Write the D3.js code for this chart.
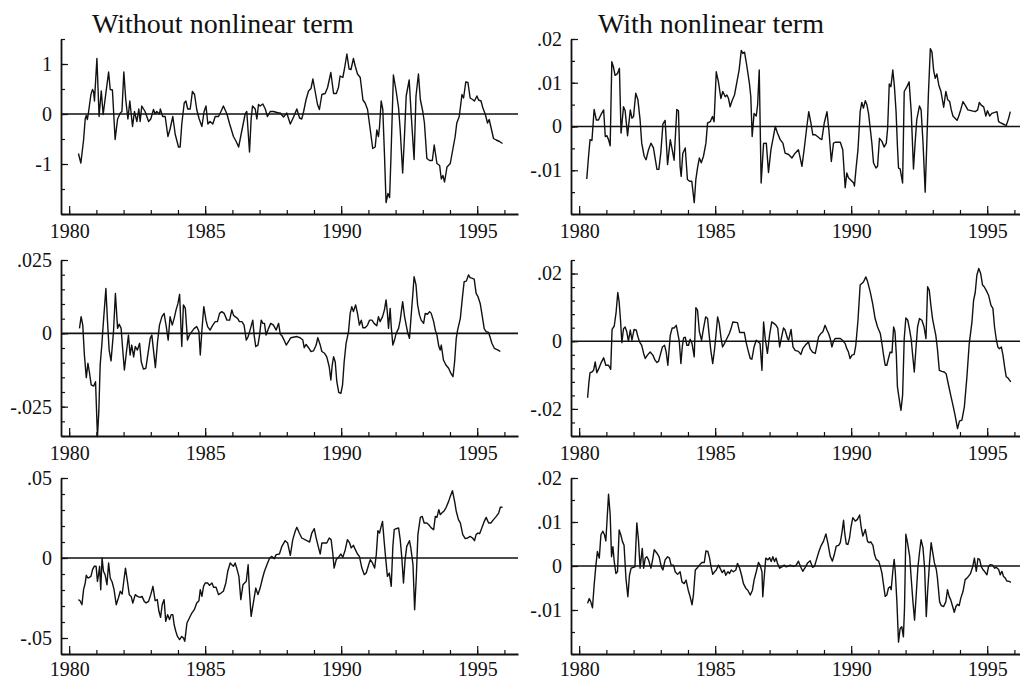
<!DOCTYPE html>
<html><head><meta charset="utf-8">
<script src="https://cdn.jsdelivr.net/npm/d3@7"></script>
<style>
body{margin:0;background:#fff}
svg{display:block;background:#fff}
</style>
</head><body>
<svg id="chart" width="1020" height="681"></svg>
<script>
// ---------------- DATA ----------------
const BASE_YEAR = 1980;            // series times are given as years since 1980
const titles = ["Without nonlinear term", "With nonlinear term"];
const yearTicks = [1980,1981,1982,1983,1984,1985,1986,1987,1988,1989,1990,1991,1992,1993,1994,1995,1996];
const yearLabels = [1980, 1985, 1990, 1995];
const xDomain = [1979.7, 1996.5];

// row 1
const yDomainA = [-2, 1.5],      yStepA = 0.5,   yLabelsA = [1, 0, -1];
const yDomainB = [-0.02, 0.02],  yStepB = 0.005, yLabelsB = [0.02, 0.01, 0, -0.01];
// row 2
const yDomainC = [-0.035, 0.025], yStepC = 0.005, yLabelsC = [0.025, 0, -0.025];
const yDomainD = [-0.028, 0.024], yStepD = 0.004, yLabelsD = [0.02, 0, -0.02];
// row 3
const yDomainE = [-0.06, 0.05],  yStepE = 0.01,  yLabelsE = [0.05, 0, -0.05];
const yDomainF = [-0.02, 0.02],  yStepF = 0.005, yLabelsF = [0.02, 0.01, 0, -0.01];

// [years since 1980, value]
const seriesA = [[.34,-.79],[.43,-.98],[.53,-.52],[.59,-.10],[.63,-.03],[.67,-.11],[.71,.03],[.80,.39],[.86,.49],[.90,.44],[.93,.26],[1.02,1.11],[1.10,-.05],[1.18,.46],[1.25,-.01],[1.32,.29],[1.45,.84],[1.51,.49],[1.59,.48],[1.69,-.51],[1.78,-.10],[1.88,.02],[1.94,.05],[2.01,.84],[2.08,.29],[2.16,-.10],[2.23,.26],[2.33,-.25],[2.40,.05],[2.49,-.15],[2.56,.10],[2.61,-.15],[2.67,.16],[2.79,.05],[2.92,-.15],[3.00,-.10],[3.10,.09],[3.16,0],[3.22,.05],[3.32,0],[3.35,.10],[3.44,-.05],[3.53,-.05],[3.63,-.45],[3.71,-.30],[3.81,-.05],[3.90,-.41],[4.02,-.66],[4.08,-.66],[4.14,-.20],[4.23,.22],[4.29,.26],[4.36,.10],[4.45,.10],[4.53,.45],[4.61,.39],[4.69,.09],[4.78,-.10],[4.88,-.25],[4.96,.05],[5.03,.16],[5.10,-.20],[5.18,-.15],[5.28,-.20],[5.37,-.05],[5.49,-.05],[5.58,.05],[5.67,.16],[5.80,0],[5.90,-.20],[6.04,-.45],[6.14,-.55],[6.23,-.66],[6.32,-.41],[6.47,0],[6.53,.05],[6.63,-.76],[6.69,-.10],[6.74,.16],[6.84,.10],[6.90,-.10],[6.96,.19],[7.02,.16],[7.12,.20],[7.21,.10],[7.29,-.05],[7.39,.05],[7.51,.05],[7.70,.02],[7.76,.02],[7.88,-.06],[8.00,.02],[8.13,-.20],[8.25,-.06],[8.37,.10],[8.47,-.08],[8.55,-.10],[8.62,.05],[8.71,.29],[8.80,.46],[8.89,.51],[8.96,.70],[9.04,.46],[9.13,.19],[9.20,.09],[9.29,.39],[9.41,.41],[9.50,.53],[9.62,.83],[9.72,.41],[9.82,.41],[9.90,.53],[9.96,.76],[10.06,.73],[10.12,.90],[10.21,1.20],[10.29,.90],[10.36,.89],[10.45,1.11],[10.52,.95],[10.60,.80],[10.70,.73],[10.80,.28],[10.88,.22],[10.97,.09],[11.07,-.32],[11.16,-.69],[11.25,-.66],[11.31,-.32],[11.37,-.45],[11.41,-.25],[11.47,.26],[11.53,.09],[11.59,-.79],[11.65,-1.77],[11.72,-1.59],[11.78,-1.67],[11.83,-.86],[11.92,.78],[12.02,.46],[12.11,.12],[12.17,-.32],[12.26,-1.18],[12.32,-.52],[12.39,.36],[12.50,.68],[12.57,.02],[12.68,-.91],[12.75,.36],[12.84,.80],[12.91,.29],[13.00,.05],[13.06,-.18],[13.15,-.89],[13.25,-.93],[13.35,-.93],[13.42,-.62],[13.52,-.99],[13.62,-1.03],[13.68,-1.30],[13.74,-1.23],[13.80,-1.36],[13.89,-1.06],[14.01,-.99],[14.11,-.69],[14.19,-.45],[14.25,-.18],[14.34,-.05],[14.44,.39],[14.50,.32],[14.58,.64],[14.66,.63],[14.74,.32],[14.83,.29],[14.90,.26],[14.99,.36],[15.05,.28],[15.14,.26],[15.21,.12],[15.30,-.01],[15.38,-.18],[15.44,-.11],[15.50,-.25],[15.60,-.49],[15.70,-.52],[15.82,-.55],[15.93,-.59]];

const seriesB = [[.28,-.0120],[.34,-.0072],[.40,-.0030],[.47,-.0032],[.55,.0039],[.63,.0015],[.71,.0015],[.80,.0027],[.90,.0038],[.96,-.0023],[1.02,-.0021],[1.08,-.0030],[1.14,-.0044],[1.20,.0148],[1.26,.0136],[1.32,.0117],[1.41,.0121],[1.48,.0133],[1.54,-.0015],[1.63,.0045],[1.69,.0036],[1.78,-.0021],[1.88,.0038],[1.94,.0019],[2.00,.0023],[2.08,.0076],[2.16,.0061],[2.24,.0015],[2.30,-.0038],[2.39,-.0068],[2.46,-.0076],[2.55,-.0053],[2.64,-.0038],[2.73,-.0049],[2.86,-.0098],[2.93,-.0098],[3.00,-.0061],[3.08,.0006],[3.16,.0014],[3.25,-.0087],[3.35,-.0030],[3.42,-.0053],[3.49,-.0077],[3.59,.0039],[3.65,.0036],[3.71,-.0091],[3.75,-.0114],[3.81,-.0061],[3.90,-.0049],[3.98,-.0121],[4.06,-.0125],[4.14,-.0125],[4.23,-.0174],[4.29,-.0121],[4.36,-.0091],[4.42,-.0072],[4.49,-.0083],[4.57,-.0068],[4.66,-.0038],[4.72,.0008],[4.82,.0011],[4.90,.0023],[4.96,.0011],[5.04,.0125],[5.12,.0102],[5.21,.0064],[5.28,.0080],[5.37,.0068],[5.43,.0072],[5.49,.0064],[5.55,.0045],[5.61,.0057],[5.71,.0072],[5.80,.0102],[5.88,.0129],[5.96,.0174],[6.02,.0167],[6.08,.0170],[6.16,.0140],[6.26,.0098],[6.31,.0068],[6.36,-.0023],[6.43,.0030],[6.51,.0024],[6.56,.0049],[6.62,.0129],[6.69,-.0129],[6.78,-.0039],[6.88,-.0038],[6.96,-.0105],[7.05,-.0053],[7.12,-.0030],[7.21,0],[7.29,-.0015],[7.39,-.0030],[7.49,-.0038],[7.57,-.0061],[7.70,-.0064],[7.82,-.0072],[7.94,-.0061],[8.06,-.0053],[8.19,-.0091],[8.27,-.0053],[8.37,0],[8.44,.0034],[8.52,.0008],[8.59,-.0019],[8.68,-.0019],[8.76,-.0023],[8.84,-.0027],[8.92,-.0030],[9.01,.0008],[9.11,.0034],[9.18,-.0008],[9.27,-.0080],[9.35,-.0038],[9.41,-.0036],[9.60,-.0036],[9.69,-.0053],[9.78,-.0140],[9.84,-.0106],[9.90,-.0117],[10.03,-.0125],[10.09,-.0129],[10.12,-.0136],[10.18,-.0095],[10.25,-.0053],[10.33,.0034],[10.39,.0055],[10.45,.0042],[10.52,.0059],[10.58,.0049],[10.64,.0029],[10.70,-.0004],[10.76,-.0038],[10.82,-.0083],[10.91,-.0095],[10.97,-.0091],[11.04,-.0027],[11.13,-.0034],[11.21,-.0047],[11.29,-.0038],[11.34,-.0004],[11.40,.0097],[11.46,.0091],[11.53,.0129],[11.59,.0091],[11.65,.0034],[11.70,-.0045],[11.74,-.0095],[11.80,-.0097],[11.89,-.0129],[11.95,.0080],[12.05,.0091],[12.13,.0102],[12.21,.0030],[12.29,-.0097],[12.35,-.0038],[12.41,.0015],[12.51,.0047],[12.57,.0038],[12.64,-.0036],[12.72,-.0150],[12.78,-.0038],[12.84,.0076],[12.91,.0178],[12.97,.0170],[13.03,.0129],[13.09,.0110],[13.15,.0120],[13.22,.0095],[13.30,.0080],[13.40,.0044],[13.48,.0080],[13.55,.0061],[13.62,.0057],[13.68,.0038],[13.74,.0024],[13.82,.0019],[13.89,.0014],[13.95,.0023],[14.03,.0039],[14.11,.0057],[14.19,.0049],[14.29,.0038],[14.56,.0034],[14.65,.0038],[14.71,.0055],[14.78,.0049],[14.87,.0045],[14.95,.0024],[15.01,.0036],[15.09,.0024],[15.17,.0030],[15.36,.0034],[15.42,.0011],[15.48,.0009],[15.64,.0004],[15.70,.0002],[15.79,.0019],[15.85,.0034]];

const seriesC = [[.38,.0017],[.44,.0057],[.50,.0028],[.56,-.0074],[.63,-.0151],[.69,-.0102],[.75,-.0136],[.81,-.0176],[.90,-.0180],[.97,-.0165],[1.04,-.0352],[1.09,-.0267],[1.14,-.0108],[1.20,-.0040],[1.26,.0040],[1.35,.0153],[1.41,.0040],[1.47,-.0057],[1.54,-.0094],[1.63,.0006],[1.70,.0136],[1.78,.0017],[1.84,.0031],[1.91,.0017],[1.97,-.0057],[2.03,-.0125],[2.10,-.0068],[2.18,-.0006],[2.24,-.0074],[2.30,-.0040],[2.37,-.0080],[2.43,-.0045],[2.51,-.0057],[2.59,-.0034],[2.65,-.0097],[2.73,-.0122],[2.82,-.0119],[2.89,-.0074],[2.98,-.0017],[3.04,-.0006],[3.10,-.0057],[3.17,-.0117],[3.25,-.0028],[3.32,.0028],[3.41,.0057],[3.49,.0068],[3.57,.0023],[3.64,-.0023],[3.71,.0057],[3.79,.0028],[3.86,.0051],[3.93,.0080],[4.00,.0102],[4.06,.0133],[4.14,-.0045],[4.20,.0097],[4.27,.0085],[4.35,-.0023],[4.42,-.0006],[4.51,.0006],[4.60,.0017],[4.69,.0023],[4.77,.0006],[4.82,-.0074],[4.88,.0011],[4.95,.0091],[5.03,.0045],[5.09,.0023],[5.18,.0011],[5.28,.0028],[5.37,.0040],[5.45,.0040],[5.53,.0068],[5.61,.0074],[5.70,.0068],[5.80,.0045],[5.90,.0045],[5.98,.0080],[6.04,.0062],[6.10,.0057],[6.19,.0051],[6.26,.0040],[6.35,.0040],[6.43,.0028],[6.51,-.0023],[6.58,-.0011],[6.65,.0011],[6.75,.0045],[6.80,-.0006],[6.86,-.0045],[6.94,-.0040],[7.00,-.0006],[7.06,.0045],[7.12,.0034],[7.18,.0034],[7.24,-.0006],[7.33,.0017],[7.41,.0034],[7.51,.0028],[7.61,.0011],[7.70,.0034],[7.76,-.0003],[7.82,-.0008],[7.90,-.0023],[7.98,-.0040],[8.06,-.0028],[8.15,-.0015],[8.37,-.0011],[8.49,-.0015],[8.59,-.0023],[8.64,-.0049],[8.71,-.0038],[8.80,-.0049],[8.89,-.0062],[8.98,-.0060],[9.08,-.0040],[9.14,-.0015],[9.23,-.0040],[9.29,-.0062],[9.39,-.0068],[9.47,-.0080],[9.56,-.0114],[9.62,-.0159],[9.67,-.0108],[9.72,-.0080],[9.78,-.0097],[9.84,-.0165],[9.91,-.0201],[9.99,-.0205],[10.05,-.0176],[10.11,-.0097],[10.18,-.0034],[10.27,.0006],[10.33,.0068],[10.39,.0091],[10.45,.0074],[10.53,.0097],[10.60,.0068],[10.67,.0028],[10.74,.0045],[10.80,.0019],[10.88,.0019],[10.97,.0028],[11.04,.0045],[11.13,.0045],[11.21,.0034],[11.31,.0026],[11.37,.0057],[11.43,.0040],[11.52,.0057],[11.59,.0080],[11.65,.0114],[11.70,.0068],[11.74,.0017],[11.80,.0085],[11.84,.0023],[11.90,-.0040],[11.96,-.0023],[12.02,0],[12.11,.0017],[12.17,.0045],[12.26,.0108],[12.33,.0057],[12.39,.0028],[12.45,0],[12.51,-.0017],[12.57,.0057],[12.64,.0142],[12.68,.0193],[12.75,.0165],[12.81,.0097],[12.88,.0062],[12.94,.0045],[13.03,.0034],[13.09,.0068],[13.17,.0065],[13.25,.0074],[13.31,.0068],[13.40,.0040],[13.46,.0011],[13.52,-.0006],[13.59,-.0045],[13.64,-.0057],[13.68,-.0040],[13.76,-.0091],[13.85,-.0108],[13.95,-.0119],[14.03,-.0136],[14.11,-.0148],[14.17,-.0097],[14.23,-.0017],[14.28,.0011],[14.38,.0051],[14.46,.0125],[14.52,.0176],[14.60,.0178],[14.68,.0199],[14.74,.0190],[14.80,.0188],[14.89,.0185],[14.96,.0136],[15.03,.0125],[15.11,.0102],[15.17,.0068],[15.26,.0015],[15.33,.0006],[15.42,.0003],[15.48,-.0015],[15.54,-.0034],[15.63,-.0051],[15.77,-.0057],[15.85,-.0062]];

const seriesD = [[.31,-.0167],[.36,-.0120],[.40,-.0093],[.47,-.0091],[.53,-.0086],[.59,-.0061],[.65,-.0093],[.72,-.0081],[.81,-.0063],[.90,-.0049],[.98,-.0071],[1.08,-.0071],[1.16,-.0083],[1.21,.0035],[1.29,.0045],[1.36,.0087],[1.42,.0144],[1.47,.0116],[1.52,.0062],[1.57,-.0004],[1.63,.0037],[1.69,.0042],[1.75,.0028],[1.81,0],[1.88,.0033],[1.94,.0003],[2.02,.0035],[2.10,.0033],[2.15,.0016],[2.22,-.0002],[2.30,-.0012],[2.37,-.0036],[2.43,-.0051],[2.51,-.0041],[2.61,-.0032],[2.71,-.0041],[2.79,-.0056],[2.86,-.0063],[2.92,-.0059],[2.98,-.0041],[3.06,-.0017],[3.14,-.0012],[3.20,-.0032],[3.26,-.0071],[3.35,.0018],[3.42,.0039],[3.49,.0039],[3.57,.0047],[3.62,.0026],[3.68,0],[3.74,-.0066],[3.79,-.0017],[3.84,.0010],[3.90,.0012],[3.96,-.0012],[4.02,-.0012],[4.08,.0006],[4.15,-.0007],[4.23,-.0046],[4.29,.0099],[4.35,.0092],[4.42,.0028],[4.50,.0003],[4.57,.0037],[4.65,.0072],[4.72,.0067],[4.78,.0018],[4.84,-.0027],[4.91,-.0066],[4.98,-.0022],[5.04,.0028],[5.09,.0072],[5.15,.0052],[5.21,.0013],[5.27,-.0017],[5.34,-.0007],[5.43,.0008],[5.52,.0023],[5.59,.0039],[5.65,.0057],[5.82,.0055],[5.90,.0026],[6.07,.0026],[6.14,-.0004],[6.21,-.0027],[6.29,-.0051],[6.35,-.0053],[6.43,-.0017],[6.51,.0003],[6.65,-.0007],[6.72,-.0086],[6.78,.0057],[6.84,.0008],[6.92,-.0036],[7.00,.0018],[7.08,.0057],[7.17,.0052],[7.24,.0047],[7.30,.0039],[7.37,-.0017],[7.43,.0008],[7.51,.0039],[7.57,.0033],[7.66,.0008],[7.70,.0003],[7.79,.0035],[7.86,-.0017],[7.94,-.0027],[8.06,-.0030],[8.15,-.0039],[8.22,-.0022],[8.31,-.0012],[8.43,-.0002],[8.49,-.0022],[8.58,-.0032],[8.68,-.0036],[8.74,-.0012],[8.80,.0013],[8.89,.0023],[8.96,.0028],[9.04,.0047],[9.11,.0033],[9.17,.0023],[9.23,.0008],[9.29,-.0017],[9.35,0],[9.41,.0008],[9.60,.0008],[9.68,.0003],[9.78,-.0007],[9.84,-.0022],[9.90,-.0032],[9.96,-.0051],[10.03,-.0041],[10.11,-.0039],[10.17,-.0012],[10.25,.0062],[10.33,.0166],[10.45,.0175],[10.54,.0190],[10.60,.0177],[10.70,.0146],[10.79,.0111],[10.88,.0067],[10.97,.0042],[11.07,.0023],[11.13,-.0007],[11.19,-.0041],[11.25,-.0071],[11.31,-.0071],[11.37,-.0051],[11.43,-.0032],[11.50,-.0034],[11.56,.0042],[11.61,.0028],[11.66,-.0041],[11.70,-.0135],[11.78,-.0179],[11.83,-.0204],[11.89,-.0160],[11.95,.0008],[12.01,.0069],[12.08,.0062],[12.15,.0033],[12.21,.0003],[12.26,-.0041],[12.32,-.0091],[12.38,-.0022],[12.44,.0042],[12.51,.0067],[12.60,.0062],[12.68,.0042],[12.75,.0008],[12.81,.0161],[12.87,.0151],[12.93,.0106],[12.99,.0067],[13.05,.0042],[13.11,.0018],[13.17,-.0022],[13.24,-.0086],[13.33,-.0089],[13.42,-.0091],[13.49,-.0096],[13.58,-.0130],[13.66,-.0160],[13.74,-.0189],[13.82,-.0219],[13.91,-.0258],[13.98,-.0236],[14.07,-.0233],[14.16,-.0194],[14.25,-.0110],[14.34,-.0007],[14.44,.0057],[14.50,.0121],[14.56,.0144],[14.62,.0195],[14.69,.0215],[14.76,.0200],[14.83,.0166],[14.89,.0161],[14.96,.0151],[15.05,.0136],[15.14,.0106],[15.21,.0097],[15.27,.0042],[15.33,.0008],[15.39,-.0017],[15.45,-.0022],[15.52,-.0017],[15.58,-.0041],[15.64,-.0076],[15.70,-.0105],[15.76,-.0108],[15.82,-.0115],[15.87,-.0120]];

const seriesE = [[.34,-.0260],[.40,-.0267],[.47,-.0292],[.53,-.0198],[.59,-.0156],[.63,-.0108],[.69,-.0125],[.74,-.0121],[.80,-.0115],[.86,-.0073],[.92,-.0052],[.99,-.0052],[1.04,-.0146],[1.08,-.0104],[1.12,-.0052],[1.16,-.0198],[1.21,0],[1.26,-.0083],[1.32,-.0104],[1.39,-.0167],[1.45,-.0031],[1.51,-.0125],[1.58,-.0150],[1.65,-.0198],[1.73,-.0292],[1.81,-.0250],[1.88,-.0208],[1.95,-.0225],[2.01,-.0142],[2.07,-.0063],[2.15,-.0156],[2.21,-.0229],[2.28,-.0240],[2.34,-.0281],[2.43,-.0229],[2.51,-.0240],[2.61,-.0246],[2.68,-.0240],[2.76,-.0271],[2.83,-.0281],[2.92,-.0271],[3.00,-.0229],[3.08,-.0177],[3.16,-.0267],[3.24,-.0260],[3.30,-.0333],[3.36,-.0371],[3.42,-.0292],[3.49,-.0260],[3.55,-.0396],[3.62,-.0354],[3.69,-.0385],[3.75,-.0354],[3.81,-.0354],[3.86,-.0417],[3.92,-.0458],[3.98,-.0490],[4.06,-.0510],[4.14,-.0490],[4.20,-.0500],[4.25,-.0521],[4.33,-.0406],[4.42,-.0375],[4.51,-.0344],[4.60,-.0323],[4.69,-.0281],[4.77,-.0267],[4.82,-.0198],[4.88,-.0240],[4.94,-.0177],[5.00,-.0156],[5.09,-.0156],[5.16,-.0171],[5.25,-.0156],[5.31,-.0183],[5.40,-.0183],[5.49,-.0229],[5.58,-.0219],[5.67,-.0208],[5.76,-.0156],[5.83,-.0083],[5.92,-.0031],[5.98,-.0042],[6.04,-.0052],[6.10,-.0031],[6.16,-.0063],[6.24,-.0115],[6.31,-.0260],[6.39,-.0167],[6.45,-.0156],[6.51,-.0146],[6.58,-.0042],[6.63,-.0219],[6.69,-.0365],[6.78,-.0271],[6.86,-.0188],[6.94,-.0229],[7.02,-.0188],[7.11,-.0125],[7.18,-.0083],[7.27,-.0042],[7.37,0],[7.45,.0010],[7.54,-.0004],[7.61,.0021],[7.73,.0025],[7.82,.0073],[7.94,.0108],[8.03,.0094],[8.13,.0017],[8.22,.0115],[8.31,.0167],[8.37,.0192],[8.46,.0156],[8.55,.0125],[8.74,.0108],[8.84,.0100],[8.92,.0156],[9.01,.0183],[9.08,.0125],[9.17,.0063],[9.23,.0025],[9.29,.0094],[9.47,.0094],[9.56,.0125],[9.63,.0115],[9.69,.0031],[9.74,-.0063],[9.82,-.0010],[9.90,.0004],[9.99,.0025],[10.06,.0004],[10.15,.0052],[10.23,.0115],[10.31,.0094],[10.37,.0063],[10.45,.0079],[10.52,.0052],[10.60,.0025],[10.67,.0010],[10.76,-.0063],[10.85,-.0104],[10.92,-.0094],[11.01,-.0042],[11.07,-.0010],[11.15,-.0031],[11.23,-.0063],[11.29,.0021],[11.35,.0171],[11.41,.0156],[11.47,.0198],[11.52,.0229],[11.58,.0104],[11.64,-.0010],[11.70,-.0115],[11.77,-.0094],[11.84,-.0177],[11.90,.0073],[11.95,.0177],[12.02,.0183],[12.11,.0188],[12.17,.0115],[12.23,0],[12.29,-.0156],[12.35,-.0010],[12.41,.0073],[12.51,.0108],[12.56,.0063],[12.64,-.0042],[12.70,-.0323],[12.76,-.0125],[12.82,.0146],[12.91,.0254],[12.98,.0260],[13.05,.0219],[13.15,.0219],[13.22,.0208],[13.31,.0188],[13.40,.0177],[13.46,.0260],[13.52,.0254],[13.59,.0302],[13.64,.0271],[13.70,.0281],[13.79,.0296],[13.86,.0317],[13.95,.0354],[14.01,.0385],[14.09,.0421],[14.17,.0354],[14.23,.0292],[14.31,.0240],[14.38,.0219],[14.47,.0146],[14.56,.0121],[14.65,.0125],[14.74,.0135],[14.83,.0125],[14.90,.0108],[14.96,.0146],[15.03,.0156],[15.09,.0152],[15.17,.0188],[15.26,.0229],[15.33,.0254],[15.42,.0219],[15.50,.0219],[15.60,.0240],[15.70,.0260],[15.79,.0281],[15.85,.0317],[15.93,.0317]];

const seriesF = [[.31,-.0085],[.37,-.0074],[.43,-.0082],[.49,-.0095],[.55,-.0044],[.61,-.0002],[.67,.0033],[.74,.0018],[.80,.0071],[.87,.0079],[.93,.0071],[.98,.0057],[1.03,.0109],[1.08,.0163],[1.14,.0117],[1.19,.0021],[1.24,.0044],[1.29,.0010],[1.35,-.0017],[1.41,-.0013],[1.47,.0082],[1.53,.0071],[1.59,.0056],[1.65,.0047],[1.72,-.0028],[1.79,-.0070],[1.85,-.0021],[1.91,-.0005],[2.05,-.0002],[2.12,.0098],[2.18,.0060],[2.24,-.0005],[2.32,.0040],[2.37,-.0005],[2.43,.0018],[2.49,.0021],[2.55,.0014],[2.64,-.0005],[2.70,.0014],[2.76,.0037],[2.86,.0029],[2.94,.0021],[3.02,-.0002],[3.08,-.0009],[3.16,.0014],[3.25,.0021],[3.32,.0018],[3.38,.0002],[3.47,.0002],[3.53,-.0013],[3.62,-.0019],[3.71,-.0013],[3.78,-.0036],[3.86,-.0040],[3.93,-.0032],[4.01,-.0055],[4.08,-.0070],[4.15,-.0088],[4.20,-.0066],[4.27,-.0009],[4.33,-.0005],[4.42,.0002],[4.51,.0008],[4.60,.0008],[4.66,.0034],[4.73,.0033],[4.79,.0019],[4.85,-.0002],[4.91,-.0019],[4.98,-.0013],[5.04,-.0009],[5.12,.0002],[5.18,-.0005],[5.26,-.0015],[5.33,-.0009],[5.39,-.0021],[5.47,-.0013],[5.53,-.0017],[5.59,-.0009],[5.67,-.0013],[5.76,-.0009],[5.82,.0006],[5.90,-.0005],[5.97,-.0021],[6.04,-.0040],[6.13,-.0051],[6.20,-.0055],[6.29,-.0066],[6.37,-.0055],[6.43,-.0032],[6.51,-.0013],[6.59,.0008],[6.65,.0002],[6.72,-.0013],[6.75,-.0070],[6.80,-.0028],[6.86,.0018],[6.94,.0014],[7.00,.0019],[7.06,.0010],[7.12,.0021],[7.18,.0010],[7.24,.0018],[7.29,.0006],[7.37,-.0005],[7.45,-.0002],[7.54,.0002],[7.61,-.0002],[7.76,.0002],[7.88,-.0001],[7.98,.0002],[8.06,.0011],[8.15,-.0003],[8.22,-.0012],[8.31,-.0003],[8.40,.0007],[8.49,.0012],[8.58,-.0003],[8.65,-.0001],[8.74,.0018],[8.82,.0034],[8.90,.0047],[8.98,.0056],[9.07,.0073],[9.14,.0053],[9.23,.0022],[9.31,.0011],[9.38,.0026],[9.45,.0045],[9.54,.0047],[9.60,.0053],[9.66,.0076],[9.72,.0104],[9.76,.0076],[9.82,.0050],[9.88,.0049],[9.94,.0064],[9.99,.0087],[10.06,.0110],[10.15,.0102],[10.23,.0106],[10.31,.0116],[10.37,.0087],[10.43,.0068],[10.52,.0083],[10.60,.0056],[10.66,.0053],[10.72,.0055],[10.80,.0047],[10.86,.0026],[10.92,.0015],[11.01,.0011],[11.07,-.0001],[11.13,-.0016],[11.19,-.0043],[11.25,-.0069],[11.31,-.0066],[11.37,-.0050],[11.43,-.0047],[11.47,-.0054],[11.53,-.0012],[11.58,.0015],[11.62,-.0012],[11.68,-.0081],[11.74,-.0173],[11.80,-.0142],[11.86,-.0138],[11.92,-.0161],[11.96,-.0096],[12.01,.0072],[12.07,.0053],[12.15,.0022],[12.21,-.0031],[12.27,-.0081],[12.33,-.0123],[12.39,-.0066],[12.45,-.0005],[12.51,.0030],[12.57,.0060],[12.64,.0041],[12.70,-.0005],[12.76,-.0115],[12.81,-.0058],[12.88,.0007],[12.94,.0053],[13.00,.0030],[13.06,.0007],[13.13,-.0008],[13.17,-.0027],[13.25,-.0081],[13.31,-.0090],[13.40,-.0092],[13.48,-.0081],[13.54,-.0054],[13.60,-.0069],[13.66,-.0077],[13.73,-.0092],[13.79,-.0105],[13.85,-.0092],[13.91,-.0087],[13.97,-.0090],[14.03,-.0073],[14.11,-.0058],[14.19,-.0031],[14.28,-.0026],[14.38,-.0018],[14.47,-.0001],[14.53,.0018],[14.60,-.0012],[14.66,.0017],[14.72,.0015],[14.78,-.0001],[14.84,-.0008],[14.90,-.0012],[14.99,-.0020],[15.05,-.0001],[15.11,.0003],[15.20,.0002],[15.27,-.0005],[15.33,-.0003],[15.42,-.0008],[15.48,-.0020],[15.54,-.0012],[15.60,-.0024],[15.66,-.0027],[15.72,-.0034],[15.81,-.0035],[15.87,-.0037]];

// ---------------- LAYOUT ----------------
const W = 1020, H = 681;
const FONT = '"Liberation Serif","Times New Roman",Times,serif';
const colX = [[61, 518], [571, 1028]];
const rowY = [[39, 214], [260, 436], [478, 654]];
const rowLabelPad = [10, 10, 8];
const titleX = [92, 598];

const panels = [
  {row:0, col:0, domain:yDomainA, step:yStepA, labels:yLabelsA, data:seriesA},
  {row:0, col:1, domain:yDomainB, step:yStepB, labels:yLabelsB, data:seriesB},
  {row:1, col:0, domain:yDomainC, step:yStepC, labels:yLabelsC, data:seriesC},
  {row:1, col:1, domain:yDomainD, step:yStepD, labels:yLabelsD, data:seriesD},
  {row:2, col:0, domain:yDomainE, step:yStepE, labels:yLabelsE, data:seriesE},
  {row:2, col:1, domain:yDomainF, step:yStepF, labels:yLabelsF, data:seriesF}
];

const fmt = v => v === 0 ? "0" : String(v).replace("0.", ".");

const svg = d3.select("#chart").attr("viewBox", `0 0 ${W} ${H}`);
svg.append("rect").attr("width", W).attr("height", H).attr("fill", "#fff");

// titles
titles.forEach((t, i) => {
  svg.append("text").attr("x", titleX[i]).attr("y", 33)
    .attr("font-family", FONT).attr("font-size", 28).attr("fill", "#111").text(t);
});

panels.forEach(p => {
  const [x0, x1] = colX[p.col];
  const [y0, y1] = rowY[p.row];
  const x = d3.scaleLinear().domain(xDomain).range([x0, x1]);
  const y = d3.scaleLinear().domain(p.domain).range([y1, y0]);
  const g = svg.append("g");

  // zero reference line
  g.append("line").attr("x1", x0).attr("x2", x1).attr("y1", y(0)).attr("y2", y(0))
    .attr("stroke", "#111").attr("stroke-width", 1.7);

  // series
  const line = d3.line().x(d => x(BASE_YEAR + d[0])).y(d => y(d[1]));
  g.append("path").datum(p.data).attr("d", line)
    .attr("fill", "none").attr("stroke", "#111").attr("stroke-width", 1.4)
    .attr("stroke-linejoin", "round");

  // y axis minor ticks
  const minor = d3.range(p.domain[0], p.domain[1] + p.step / 2, p.step);
  const yMinor = g.append("g").attr("transform", `translate(${x0},0)`)
    .call(d3.axisLeft(y).tickValues(minor).tickFormat("").tickSizeInner(-4).tickSizeOuter(0));
  yMinor.select(".domain").attr("stroke", "#111").attr("stroke-width", 1.8);
  yMinor.selectAll(".tick line").attr("stroke", "#111").attr("stroke-width", 1.2);

  // y axis labelled ticks
  const yMajor = g.append("g").attr("transform", `translate(${x0},0)`)
    .call(d3.axisLeft(y).tickValues(p.labels).tickFormat(fmt).tickSizeInner(-7).tickSizeOuter(0).tickPadding(9));
  yMajor.select(".domain").remove();
  yMajor.selectAll(".tick line").attr("stroke", "#111").attr("stroke-width", 1.2);
  yMajor.selectAll("text").attr("font-family", FONT).attr("font-size", 20).attr("fill", "#111");

  // x axis yearly ticks
  const xMinor = g.append("g").attr("transform", `translate(0,${y1})`)
    .call(d3.axisBottom(x).tickValues(yearTicks).tickFormat("").tickSizeInner(-4).tickSizeOuter(0));
  xMinor.select(".domain").attr("stroke", "#111").attr("stroke-width", 1.8);
  xMinor.selectAll(".tick line").attr("stroke", "#111").attr("stroke-width", 1.2);

  // x axis labelled ticks
  const xMajor = g.append("g").attr("transform", `translate(0,${y1})`)
    .call(d3.axisBottom(x).tickValues(yearLabels).tickFormat(d3.format("d")).tickSizeInner(-8).tickSizeOuter(0).tickPadding(rowLabelPad[p.row]));
  xMajor.select(".domain").remove();
  xMajor.selectAll(".tick line").attr("stroke", "#111").attr("stroke-width", 1.2);
  xMajor.selectAll("text").attr("font-family", FONT).attr("font-size", 20).attr("fill", "#111");
});
</script>
</body></html>
